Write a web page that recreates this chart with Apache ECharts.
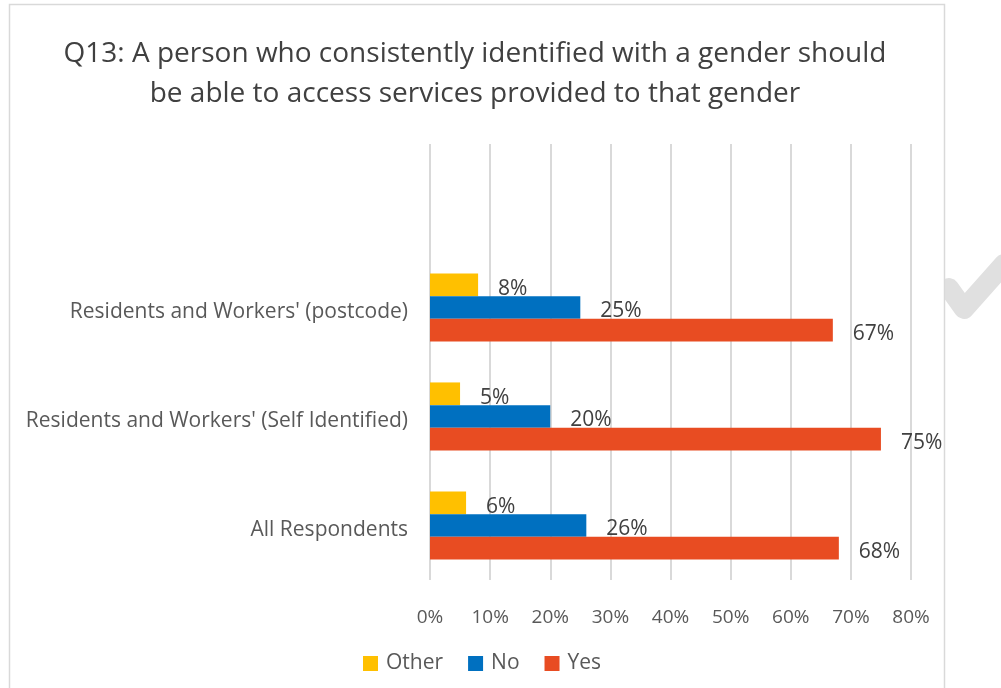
<!DOCTYPE html>
<html><head><meta charset="utf-8">
<script src="https://cdn.jsdelivr.net/npm/echarts@6/dist/echarts.min.js"></script>
<style>html,body{margin:0;padding:0;background:#fff}#c{width:1001px;height:688px}</style>
</head><body><div id="c"></div>
<script>
// categories listed bottom-to-top; the top slot is an empty category as in the original
const categories = ["All Respondents", "Residents and Workers' (Self Identified)", "Residents and Workers' (postcode)", ""];
const otherVals = [6, 5, 8, null];
const noVals = [26, 20, 25, null];
const yesVals = [68, 75, 67, null];
const tickLabels = ["0%","10%","20%","30%","40%","50%","60%","70%","80%"];
const titleText = "Q13: A person who consistently identified with a gender should\nbe able to access services provided to that gender";

const FONT = "Open Sans";
const chart = echarts.init(document.getElementById('c'));
const lbl = {show:true, position:'right', distance:20, offset:[0,4], formatter: p => p.value + '%', color:'#404040', fontSize:21, fontFamily:FONT};
chart.setOption({
  animation:false,
  textStyle:{fontFamily:FONT},
  graphic:[
    {type:'polyline', z:-10, shape:{points:[[949,288],[964,309],[1004,264]]}, style:{stroke:'#e0e0e0', lineWidth:20, fill:null, lineCap:'round', lineJoin:'round'}},
    {type:'rect', z:-5, shape:{x:9.5,y:4.5,width:935,height:700}, style:{fill:'#fff', stroke:'#d9d9d9', lineWidth:1.5}}
  ],
  title:{text:titleText, left:470, textAlign:'center', top:29, textStyle:{fontFamily:FONT, fontSize:28, fontWeight:'normal', color:'#404040', lineHeight:40}},
  legend:{bottom:9, left:358, data:['Other','No','Yes'], itemWidth:15, itemHeight:15, itemGap:25, icon:'rect', textStyle:{color:'#595959', fontSize:21, fontFamily:FONT, padding:[0,0,0,3]}},
  grid:{left:430, right:90, top:144, bottom:108},
  xAxis:{type:'value', min:0, max:80, interval:10,
    axisLabel:{formatter: (v,i) => tickLabels[i], color:'#595959', fontSize:19, margin:28, fontFamily:FONT},
    splitLine:{lineStyle:{color:'#d9d9d9', width:2}}, axisLine:{show:false}, axisTick:{show:false}},
  yAxis:{type:'category', data:categories, axisLine:{show:false}, axisTick:{show:false},
    axisLabel:{margin:22, formatter: v => v ? '{a|' + v + '}' : '',
      rich:{a:{color:'#595959', fontSize:21, fontFamily:FONT, padding:[10,0,0,0]}}}},
  series:[
    {name:'Other', type:'bar', data:otherVals, itemStyle:{color:'#FFC000'}, barGap:'0%', barCategoryGap:'37.5%', label:lbl},
    {name:'No', type:'bar', data:noVals, itemStyle:{color:'#0070C0'}, barGap:'0%', barCategoryGap:'37.5%', label:lbl},
    {name:'Yes', type:'bar', data:yesVals, itemStyle:{color:'#E84C22'}, barGap:'0%', barCategoryGap:'37.5%', label:lbl}
  ]
});
</script></body></html>
